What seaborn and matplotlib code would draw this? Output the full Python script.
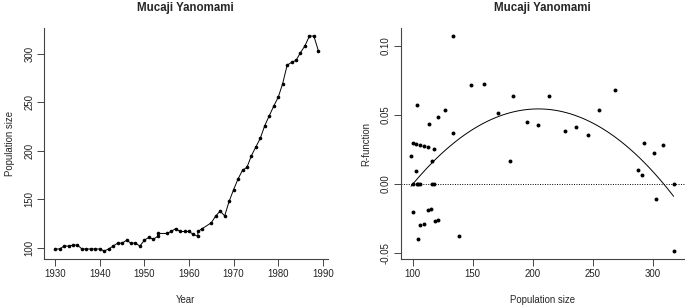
import numpy as np
import pandas as pd
import matplotlib
matplotlib.use("Agg")
import matplotlib.pyplot as plt
import seaborn as sns

# population series
years = [1930, 1931, 1932, 1933, 1934, 1935, 1936, 1937, 1938, 1939, 1940, 1941,
         1942, 1943, 1944, 1945, 1946, 1947, 1948, 1949, 1950, 1951, 1952, 1953,
         1953, 1955, 1956, 1957, 1958, 1959, 1960, 1961, 1962, 1962, 1963, 1965,
         1966, 1967, 1968, 1969, 1970, 1971, 1972, 1973, 1974, 1975, 1976, 1977,
         1978, 1979, 1980, 1981, 1982, 1983, 1984, 1985, 1986, 1987, 1988, 1989]
population = [99, 99, 102, 102, 103, 103, 99, 99, 99, 99, 99, 97,
              99, 102, 105, 105, 108, 105, 105, 102, 108, 111, 109, 112,
              115, 115, 117, 120, 117, 117, 117, 114, 112, 117, 120, 126,
              133, 138, 133, 148, 160, 171, 180, 183, 195, 204, 213, 226,
              236, 246, 255, 269, 288, 291, 293, 301, 308, 318, 318, 303]

# R-function points
r_pop = [133.9, 148.6, 159.7, 183.3, 103.3, 126.9, 120.8, 171.4, 113.3, 133.9,
         100.0, 102.8, 106.1, 109.4, 113.0, 118.0, 98.6, 116.1, 103.0, 180.8,
         100.0, 103.3, 104.7, 106.1, 116.1, 118.0, 100.0, 112.5, 115.3, 106.1,
         109.4, 118.3, 121.1, 104.2, 138.9, 213.3, 268.8, 255.0, 195.5, 204.4,
         227.2, 236.3, 245.8, 292.8, 308.3, 301.4, 287.7, 290.8, 317.5, 302.5,
         317.5]
r_val = [0.1068, 0.0715, 0.0727, 0.0636, 0.0570, 0.0539, 0.0486, 0.0512, 0.0435, 0.0367,
         0.0297, 0.0288, 0.0280, 0.0273, 0.0266, 0.0254, 0.0201, 0.0169, 0.0094, 0.0164,
         0.0, 0.0, 0.0, 0.0, 0.0, 0.0, -0.0205, -0.0186, -0.0181, -0.0294,
         -0.0285, -0.0263, -0.0256, -0.0398, -0.0372, 0.0636, 0.0681, 0.0534, 0.0450, 0.0430,
         0.0387, 0.0413, 0.0358, 0.0300, 0.0285, 0.0227, 0.0101, 0.0066, 0.0, -0.0104,
         -0.0486]

pop_df = pd.DataFrame({"Year": years, "Population size": population})
r_df = pd.DataFrame({"Population size": r_pop, "R-function": r_val})

sns.set_style("ticks")
plt.rcParams["font.family"] = ["Liberation Sans", "DejaVu Sans"]
plt.rcParams["font.size"] = 6.9
plt.rcParams["axes.edgecolor"] = "#444444"
plt.rcParams["axes.linewidth"] = 0.8
plt.rcParams["xtick.color"] = "#444444"
plt.rcParams["ytick.color"] = "#444444"
plt.rcParams["xtick.labelcolor"] = "#222222"
plt.rcParams["ytick.labelcolor"] = "#222222"

fig = plt.figure(figsize=(6.85, 3.06), dpi=100)
ax1 = fig.add_axes([44 / 685, 1 - 259 / 306, (327.7 - 44) / 685, 231 / 306])
ax2 = fig.add_axes([400.7 / 685, 1 - 259 / 306, (685 - 400.7) / 685, 231 / 306])

# left: population over time
sns.lineplot(data=pop_df, x="Year", y="Population size", ax=ax1, estimator=None,
             sort=False, color="black", lw=0.7, marker="o", markersize=2.6,
             markeredgewidth=0)
ax1.set_xlim(1927.5, 1991.1)
ax1.set_ylim(88.7, 326.3)
ax1.set_xticks(range(1930, 1991, 10))
ax1.set_yticks([100, 150, 200, 250, 300])
ax1.tick_params(axis="y", labelrotation=90)
for lab in ax1.get_yticklabels():
    lab.set_verticalalignment("center")
ax1.set_title("Mucaji Yanomami", fontsize=8.3, fontweight="bold", pad=12)
ax1.set_xlabel("Year", labelpad=12)
ax1.set_ylabel("Population size", labelpad=7)

# right: R-function vs population size
ax2.axhline(0, color="black", lw=0.7, ls=(0, (1, 1.5)))
sns.regplot(data=r_df, x="Population size", y="R-function", ax=ax2, order=2,
            ci=None, scatter=False, line_kws={"color": "black", "lw": 0.7})
sns.scatterplot(data=r_df, x="Population size", y="R-function", ax=ax2,
                color="black", s=8, linewidth=0)
ax2.set_xlim(90, 327)
ax2.set_ylim(-0.0541, 0.1128)
ax2.set_xticks([100, 150, 200, 250, 300])
ax2.set_yticks([-0.05, 0.0, 0.05, 0.10])
ax2.set_yticklabels(["-0.05", "0.00", "0.05", "0.10"])
ax2.tick_params(axis="y", labelrotation=90)
for lab in ax2.get_yticklabels():
    lab.set_verticalalignment("center")
ax2.set_title("Mucaji Yanomami", fontsize=8.3, fontweight="bold", pad=12)
ax2.set_xlabel("Population size", labelpad=12)
ax2.set_ylabel("R-function", labelpad=7)

for ax in (ax1, ax2):
    sns.despine(ax=ax)
    ax.tick_params(length=5, width=0.7, pad=2)

fig.savefig("out.png", dpi=100)
